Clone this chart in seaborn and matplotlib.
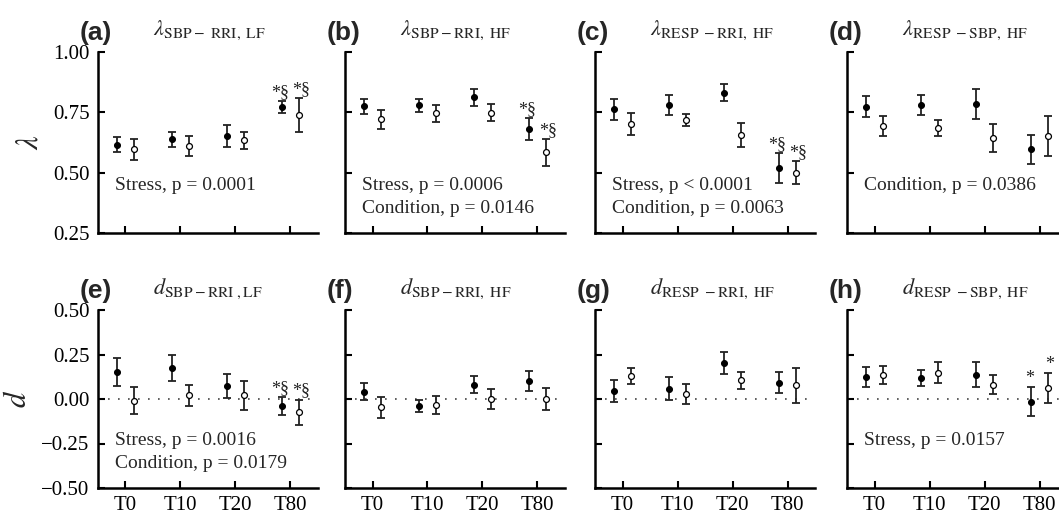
import matplotlib
matplotlib.use("Agg")
import matplotlib.pyplot as plt
import seaborn as sns
import pandas as pd

sns.set_theme(style="ticks")
plt.rcParams["font.family"] = ["Liberation Serif", "DejaVu Serif"]
plt.rcParams["mathtext.fontset"] = "stix"

times = ["T0", "T10", "T20", "T80"]

# lambda panels (a-d): filled = first series, open = second series
a_fill = [0.615, 0.639, 0.652, 0.772]
a_fill_err = [0.031, 0.031, 0.044, 0.025]
a_open = [0.597, 0.612, 0.634, 0.739]
a_open_err = [0.043, 0.042, 0.034, 0.071]

b_fill = [0.776, 0.779, 0.812, 0.681]
b_fill_err = [0.031, 0.028, 0.034, 0.045]
b_open = [0.721, 0.746, 0.749, 0.584]
b_open_err = [0.040, 0.035, 0.034, 0.056]

c_fill = [0.762, 0.780, 0.831, 0.518]
c_fill_err = [0.042, 0.040, 0.036, 0.062]
c_open = [0.703, 0.718, 0.657, 0.500]
c_open_err = [0.045, 0.025, 0.050, 0.047]

d_fill = [0.773, 0.779, 0.786, 0.597]
d_fill_err = [0.044, 0.041, 0.062, 0.061]
d_open = [0.695, 0.685, 0.644, 0.652]
d_open_err = [0.041, 0.034, 0.058, 0.083]

# d panels (e-h)
e_fill = [0.152, 0.174, 0.071, -0.040]
e_fill_err = [0.077, 0.074, 0.067, 0.050]
e_open = [-0.009, 0.021, 0.021, -0.075]
e_open_err = [0.075, 0.060, 0.080, 0.072]

f_fill = [0.041, -0.041, 0.081, 0.102]
f_fill_err = [0.047, 0.034, 0.050, 0.056]
f_open = [-0.046, -0.033, 0.000, 0.000]
f_open_err = [0.060, 0.050, 0.056, 0.064]

g_fill = [0.043, 0.057, 0.202, 0.091]
g_fill_err = [0.061, 0.064, 0.061, 0.059]
g_open = [0.130, 0.028, 0.104, 0.076]
g_open_err = [0.044, 0.055, 0.047, 0.096]

h_fill = [0.124, 0.117, 0.137, -0.015]
h_fill_err = [0.057, 0.045, 0.072, 0.080]
h_open = [0.135, 0.148, 0.081, 0.061]
h_open_err = [0.050, 0.059, 0.052, 0.083]

titles = [
    r"$\lambda_{\mathrm{SBP-\ RRI,\ LF}}$",
    r"$\lambda_{\mathrm{SBP-RRI,\ HF}}$",
    r"$\lambda_{\mathrm{RESP\ -RRI,\ HF}}$",
    r"$\lambda_{\mathrm{RESP\ -SBP,\ HF}}$",
    r"$d_{\mathrm{SBP-RRI\ ,LF}}$",
    r"$d_{\mathrm{SBP-RRI,\ HF}}$",
    r"$d_{\mathrm{RESP\ -RRI,\ HF}}$",
    r"$d_{\mathrm{RESP\ -SBP,\ HF}}$",
]
letters = ["(a)", "(b)", "(c)", "(d)", "(e)", "(f)", "(g)", "(h)"]
stats = [
    ["Stress, p = 0.0001"],
    ["Stress, p = 0.0006", "Condition, p = 0.0146"],
    ["Stress, p < 0.0001", "Condition, p = 0.0063"],
    ["Condition, p = 0.0386"],
    ["Stress, p = 0.0016", "Condition, p = 0.0179"],
    [],
    [],
    ["Stress, p = 0.0157"],
]
# significance marks at T80 (filled, open)
marks = ["*§", "*§", "*§", "", "*§", "", "", "*"]

panels = [
    (a_fill, a_fill_err, a_open, a_open_err),
    (b_fill, b_fill_err, b_open, b_open_err),
    (c_fill, c_fill_err, c_open, c_open_err),
    (d_fill, d_fill_err, d_open, d_open_err),
    (e_fill, e_fill_err, e_open, e_open_err),
    (f_fill, f_fill_err, f_open, f_open_err),
    (g_fill, g_fill_err, g_open, g_open_err),
    (h_fill, h_fill_err, h_open, h_open_err),
]

W, H = 1059, 518
fig = plt.figure(figsize=(W / 100, H / 100), dpi=100)
lefts = [98, 345, 595, 847]
rows = [(52, 233), (310, 488)]
axw = 220
dodge = 0.15

for i, (fm, fe, om, oe) in enumerate(panels):
    r, c = divmod(i, 4)
    top, bot = rows[r]
    ax = fig.add_axes([lefts[c] / W, 1 - bot / H, axw / W, (bot - top) / H])
    df = pd.DataFrame({
        "time": times * 2,
        "pos": [k + 1 - dodge for k in range(4)] + [k + 1 + dodge for k in range(4)],
        "value": fm + om,
        "err": fe + oe,
        "series": ["filled"] * 4 + ["open"] * 4,
    })
    if r == 1:
        ax.axhline(0, color="#444444", lw=1.2, ls=(0, (1, 5)), zorder=0)
    ax.errorbar(df["pos"], df["value"], yerr=df["err"], fmt="none",
                ecolor="#222222", elinewidth=1.3, capsize=3, capthick=1.3, zorder=2)
    sub = df[df["series"] == "filled"]
    sns.scatterplot(data=sub, x="pos", y="value", ax=ax, color="black",
                    edgecolor="black", s=18, linewidth=0.8, zorder=3)
    sub = df[df["series"] == "open"]
    sns.scatterplot(data=sub, x="pos", y="value", ax=ax, color="white",
                    edgecolor="black", s=18, linewidth=0.9, zorder=3)
    if marks[i]:
        t80 = df[df["time"] == "T80"]
        for k, (_, row) in enumerate(t80.iterrows()):
            ax.annotate(marks[i], (row["pos"], row["value"] + row["err"]),
                        xytext=(-1.5 if k == 0 else 1.5, 0), textcoords="offset points",
                        ha="center", va="bottom", fontsize=13, color="#222222")

    ax.set_xlim(0.5, 4.5)
    ax.set_xticks(range(1, 5))
    if r == 0:
        ax.set_ylim(0.25, 1.0)
        ax.set_yticks([0.25, 0.5, 0.75, 1.0])
        ylabels = ["0.25", "0.50", "0.75", "1.00"]
        ylab = r"$\lambda$"
    else:
        ax.set_ylim(-0.5, 0.5)
        ax.set_yticks([-0.5, -0.25, 0, 0.25, 0.5])
        ylabels = ["\u22120.50", "\u22120.25", "0.00", "0.25", "0.50"]
        ylab = r"$d$"
    if c == 0:
        ax.set_yticklabels(ylabels)
        ax.set_ylabel(ylab, fontsize=22, labelpad=6)
    else:
        ax.set_yticklabels([])
        ax.set_ylabel("")
    if r == 1:
        ax.set_xticklabels(times)
    else:
        ax.set_xticklabels([])
    ax.set_xlabel("")

    ax.tick_params(direction="in", length=5, width=1.5, labelsize=15, pad=6, colors="black")
    sns.despine(ax=ax)
    for s in ["left", "bottom"]:
        ax.spines[s].set_linewidth(1.8)
        ax.spines[s].set_color("black")

    ax.text(-0.085, 1.105, letters[i], transform=ax.transAxes, ha="left", va="center",
            fontsize=19, fontweight="bold", family=["Liberation Sans", "DejaVu Sans"])
    ax.text(0.25, 1.12, titles[i], transform=ax.transAxes, ha="left", va="center",
            fontsize=16)
    for j, line in enumerate(stats[i]):
        ax.text(0.077, [0.265, 0.135][j], line, transform=ax.transAxes,
                ha="left", va="center", fontsize=14)

fig.savefig("out.png", dpi=100)
